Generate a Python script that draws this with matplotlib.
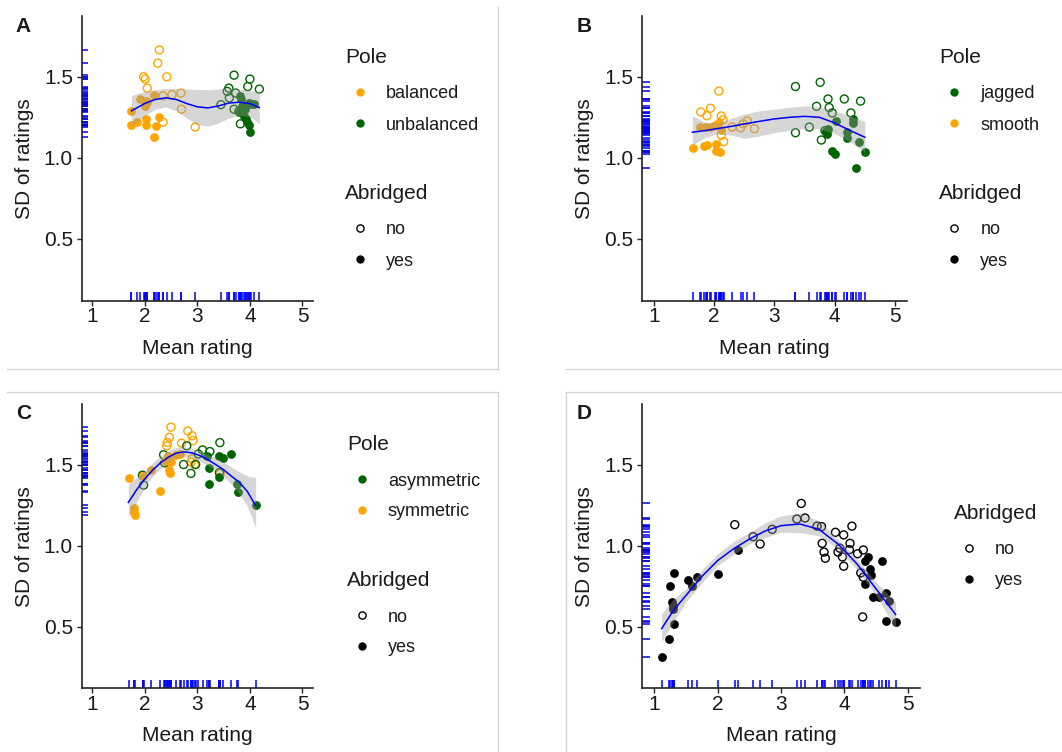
import numpy as np
import matplotlib.pyplot as plt
from matplotlib.lines import Line2D

plt.rcParams['font.family'] = ['Liberation Sans', 'DejaVu Sans']

W, H = 1062, 752
ORANGE = '#FFA500'
GREEN = '#006400'
BAND = '#999999'
TXT = '#1a1a1a'

# ---------------- panel A : balanced / unbalanced
a_bal_no_x = [2.28, 2.25, 1.98, 2.01, 2.42, 2.05, 2.35, 2.52, 2.69, 2.70, 2.96, 2.35]
a_bal_no_y = [1.666, 1.584, 1.50, 1.486, 1.50, 1.43, 1.383, 1.39, 1.40, 1.30, 1.19, 1.22]
a_bal_yes_x = [1.75, 1.92, 2.00, 2.03, 2.18, 2.05, 1.75, 1.85, 2.03, 2.03, 2.27, 2.22, 2.17]
a_bal_yes_y = [1.29, 1.365, 1.32, 1.35, 1.385, 1.345, 1.20, 1.22, 1.24, 1.20, 1.25, 1.195, 1.127]
a_unb_no_x = [3.70, 4.00, 3.96, 4.18, 3.60, 3.57, 3.73, 3.61, 3.45, 3.70, 3.79, 3.82]
a_unb_no_y = [1.51, 1.486, 1.44, 1.424, 1.43, 1.41, 1.40, 1.37, 1.328, 1.30, 1.288, 1.21]
a_unb_yes_x = [3.82, 3.84, 3.85, 3.98, 4.03, 4.08, 3.90, 3.88, 3.95, 3.99, 4.01, 3.93, 3.80]
a_unb_yes_y = [1.38, 1.36, 1.32, 1.34, 1.33, 1.335, 1.30, 1.26, 1.22, 1.20, 1.16, 1.24, 1.285]
a_fit_x = [1.75, 2.0, 2.2, 2.4, 2.6, 2.8, 3.0, 3.2, 3.4, 3.6, 3.8, 4.0, 4.18]
a_fit_y = [1.29, 1.335, 1.36, 1.37, 1.36, 1.335, 1.315, 1.308, 1.32, 1.338, 1.343, 1.335, 1.31]
a_hi = [1.385, 1.41, 1.42, 1.428, 1.428, 1.425, 1.422, 1.42, 1.425, 1.432, 1.425, 1.415, 1.41]
a_lo = [1.195, 1.26, 1.30, 1.315, 1.29, 1.245, 1.205, 1.195, 1.215, 1.245, 1.262, 1.255, 1.21]

# ---------------- panel B : jagged / smooth
b_smo_no_x = [2.08, 1.78, 1.94, 1.88, 2.12, 2.15, 2.30, 2.44, 2.48, 2.55, 2.67, 2.12, 2.16]
b_smo_no_y = [1.412, 1.283, 1.306, 1.26, 1.258, 1.235, 1.19, 1.185, 1.21, 1.228, 1.18, 1.14, 1.10]
b_smo_yes_x = [1.65, 1.76, 1.86, 1.84, 1.89, 2.01, 2.09, 2.11, 2.04, 2.03, 2.10, 1.95]
b_smo_yes_y = [1.063, 1.19, 1.188, 1.076, 1.08, 1.20, 1.22, 1.17, 1.088, 1.042, 1.037, 1.19]
b_jag_no_x = [3.35, 3.76, 3.89, 4.16, 4.43, 3.70, 3.91, 3.96, 4.27, 3.35, 3.58, 3.84, 3.87, 3.78]
b_jag_no_y = [1.44, 1.466, 1.363, 1.363, 1.35, 1.318, 1.31, 1.277, 1.277, 1.155, 1.19, 1.168, 1.16, 1.11]
b_jag_yes_x = [4.03, 4.31, 4.31, 3.85, 3.88, 4.21, 4.21, 4.40, 3.96, 4.00, 4.50, 4.35, 3.89]
b_jag_yes_y = [1.225, 1.24, 1.218, 1.168, 1.148, 1.158, 1.12, 1.10, 1.04, 1.025, 1.035, 0.94, 1.18]
b_fit_x = [1.64, 1.85, 2.05, 2.3, 2.5, 2.75, 3.0, 3.25, 3.5, 3.75, 4.0, 4.25, 4.5]
b_fit_y = [1.158, 1.168, 1.18, 1.195, 1.209, 1.225, 1.24, 1.25, 1.256, 1.25, 1.215, 1.17, 1.127]
b_hi = [1.26, 1.22, 1.215, 1.245, 1.27, 1.29, 1.30, 1.312, 1.32, 1.315, 1.29, 1.26, 1.225]
b_lo = [1.08, 1.125, 1.148, 1.14, 1.12, 1.135, 1.155, 1.17, 1.18, 1.18, 1.15, 1.10, 1.035]

# ---------------- panel C : asymmetric / symmetric
c_sym_no_x = [2.50, 2.82, 2.90, 2.92, 2.47, 2.43, 2.42, 2.70, 2.90, 2.95, 1.96, 3.44, 2.88]
c_sym_no_y = [1.73, 1.707, 1.677, 1.648, 1.668, 1.636, 1.615, 1.632, 1.535, 1.50, 1.432, 1.445, 1.515]
c_sym_yes_x = [1.70, 1.79, 1.80, 1.81, 1.97, 2.12, 2.30, 2.38, 2.47, 2.48, 2.50, 2.60, 2.67, 2.45]
c_sym_yes_y = [1.414, 1.23, 1.21, 1.19, 1.43, 1.465, 1.334, 1.52, 1.467, 1.447, 1.518, 1.56, 1.567, 1.55]
c_asy_no_x = [2.80, 3.10, 3.24, 3.43, 2.36, 2.38, 2.74, 2.97, 2.88, 1.98, 1.96, 3.02, 3.42]
c_asy_no_y = [1.615, 1.59, 1.58, 1.635, 1.56, 1.51, 1.50, 1.50, 1.445, 1.373, 1.434, 1.565, 1.45]
c_asy_yes_x = [3.18, 3.22, 3.22, 3.41, 3.48, 3.65, 3.41, 3.75, 3.77, 4.11]
c_asy_yes_y = [1.553, 1.477, 1.38, 1.553, 1.54, 1.567, 1.424, 1.38, 1.332, 1.25]
c_fit_x = [1.69, 1.85, 2.0, 2.15, 2.3, 2.45, 2.6, 2.75, 2.9, 3.05, 3.2, 3.35, 3.5, 3.65, 3.8, 3.95, 4.11]
c_fit_y = [1.266, 1.345, 1.41, 1.465, 1.51, 1.545, 1.57, 1.578, 1.572, 1.555, 1.53, 1.50, 1.468, 1.428, 1.39, 1.335, 1.246]
c_hi = [1.38, 1.42, 1.46, 1.51, 1.553, 1.585, 1.605, 1.61, 1.60, 1.58, 1.56, 1.54, 1.515, 1.485, 1.455, 1.43, 1.42]
c_lo = [1.174, 1.27, 1.36, 1.425, 1.475, 1.515, 1.54, 1.55, 1.54, 1.52, 1.495, 1.465, 1.425, 1.38, 1.32, 1.245, 1.11]

# ---------------- panel D : abridged only
d_no_x = [2.27, 2.56, 2.67, 2.86, 3.25, 3.32, 3.38, 3.57, 3.64, 3.65, 3.68, 3.70, 3.86,
          3.99, 4.12, 3.90, 3.93, 3.97, 3.99, 4.09, 4.08, 4.21, 4.30, 4.26, 4.30, 4.29]
d_no_y = [1.129, 1.055, 1.01, 1.10, 1.164, 1.26, 1.17, 1.12, 1.117, 1.014, 0.96, 0.922, 1.082,
          1.066, 1.12, 0.96, 0.984, 0.93, 0.873, 1.014, 0.975, 0.95, 0.973, 0.832, 0.805, 0.56]
d_yes_x = [1.115, 1.236, 1.247, 1.315, 1.28, 1.30, 1.29, 1.315, 1.525, 1.60, 1.68, 2.01, 2.32,
           4.38, 4.33, 4.40, 4.42, 4.32, 4.60, 4.45, 4.55, 4.66, 4.71, 4.66, 4.81]
d_yes_y = [0.31, 0.426, 0.75, 0.832, 0.652, 0.63, 0.61, 0.518, 0.79, 0.75, 0.805, 0.826, 0.975,
           0.928, 0.904, 0.857, 0.816, 0.764, 0.908, 0.68, 0.68, 0.707, 0.656, 0.535, 0.529]
d_fit_x = [1.115, 1.3, 1.5, 1.75, 2.0, 2.25, 2.5, 2.75, 3.0, 3.3, 3.6, 3.9, 4.2, 4.5, 4.81]
d_fit_y = [0.488, 0.60, 0.693, 0.81, 0.908, 0.98, 1.04, 1.09, 1.123, 1.133, 1.10, 1.01, 0.887, 0.734, 0.575]
d_hi = [0.58, 0.67, 0.734, 0.85, 0.95, 1.025, 1.082, 1.14, 1.184, 1.20, 1.154, 1.04, 0.918, 0.775, 0.652]
d_lo = [0.406, 0.53, 0.652, 0.77, 0.877, 0.945, 1.01, 1.05, 1.082, 1.08, 1.06, 0.98, 0.852, 0.693, 0.488]


fig = plt.figure(figsize=(W / 100, H / 100), dpi=100)


def fx(x):
    return x / W


def fy(y):
    return 1 - y / H


def px_axes(l, t, r, b):
    return fig.add_axes([fx(l), fy(b), (r - l) / W, (b - t) / H])


def ftext(x, y, s, **kw):
    kw.setdefault('color', TXT)
    fig.text(fx(x), fy(y), s, **kw)


def key(x, y, color, filled):
    fig.add_artist(Line2D([fx(x)], [fy(y)], transform=fig.transFigure, marker='o',
                          markersize=6.0 if filled else 5.2,
                          markerfacecolor=color if filled else 'none',
                          markeredgecolor=color, markeredgewidth=0 if filled else 1.0,
                          linestyle='none'))


def draw_panel(ax, groups, fit_x, fit_y, lo, hi):
    all_x, all_y = [], []
    for gx, gy, color, filled in groups:
        if filled:
            ax.scatter(gx, gy, s=40, c=color, linewidths=0, zorder=2)
        else:
            ax.scatter(gx, gy, s=33, facecolors='none', edgecolors=color, linewidths=1.0, zorder=2)
        all_x += list(gx)
        all_y += list(gy)
    ax.fill_between(fit_x, lo, hi, color=BAND, alpha=0.4, lw=0, zorder=3)
    ax.plot(fit_x, fit_y, color='blue', lw=1.1, zorder=4)
    ax.vlines(all_x, 0, 0.03, transform=ax.get_xaxis_transform(), color='blue', lw=1.1, zorder=1)
    ax.hlines(all_y, 0, 0.03, transform=ax.get_yaxis_transform(), color='blue', lw=1.1, zorder=1)

    ax.set_xlim(0.8, 5.2)
    ax.set_ylim(0.12, 1.875)
    ax.set_xticks([1, 2, 3, 4, 5])
    ax.set_yticks([0.5, 1.0, 1.5])
    ax.set_yticklabels(['0.5', '1.0', '1.5'])
    for s in ['top', 'right']:
        ax.spines[s].set_visible(False)
    for s in ['left', 'bottom']:
        ax.spines[s].set_linewidth(1.2)
        ax.spines[s].set_color('#222222')
    ax.tick_params(axis='both', length=3.6, width=1.0, color='#222222', labelsize=15,
                   labelcolor=TXT)
    ax.tick_params(axis='x', pad=1.4)
    ax.tick_params(axis='y', pad=2.6)


ax_a = px_axes(81.5, 16, 313, 300.5)
draw_panel(ax_a, [(a_bal_no_x, a_bal_no_y, ORANGE, False), (a_unb_no_x, a_unb_no_y, GREEN, False),
                  (a_bal_yes_x, a_bal_yes_y, ORANGE, True), (a_unb_yes_x, a_unb_yes_y, GREEN, True)],
           a_fit_x, a_fit_y, a_lo, a_hi)

ax_b = px_axes(641.7, 16, 907, 300.5)
draw_panel(ax_b, [(b_smo_no_x, b_smo_no_y, ORANGE, False), (b_jag_no_x, b_jag_no_y, GREEN, False),
                  (b_smo_yes_x, b_smo_yes_y, ORANGE, True), (b_jag_yes_x, b_jag_yes_y, GREEN, True)],
           b_fit_x, b_fit_y, b_lo, b_hi)

ax_c = px_axes(81.5, 403.7, 313, 688.3)
draw_panel(ax_c, [(c_sym_no_x, c_sym_no_y, ORANGE, False), (c_asy_no_x, c_asy_no_y, GREEN, False),
                  (c_sym_yes_x, c_sym_yes_y, ORANGE, True), (c_asy_yes_x, c_asy_yes_y, GREEN, True)],
           c_fit_x, c_fit_y, c_lo, c_hi)

ax_d = px_axes(641.7, 403.7, 920.3, 688.3)
draw_panel(ax_d, [(d_no_x, d_no_y, 'black', False), (d_yes_x, d_yes_y, 'black', True)],
           d_fit_x, d_fit_y, d_lo, d_hi)

# axis titles and panel letters
for cx, cy, lx, base, letter_x, letter_base, letter in [
        (197, 159, 25, 354, 15.7, 32.3, 'A'),
        (774.3, 159, 585, 354, 577, 32.3, 'B'),
        (197, 546.5, 25, 741, 15.7, 419.3, 'C'),
        (781, 546.5, 585, 741, 577, 419.3, 'D')]:
    ftext(cx, base, 'Mean rating', fontsize=15, ha='center', va='baseline')
    ftext(lx, cy, 'SD of ratings', fontsize=15, rotation=90, ha='center', va='center')
    ftext(letter_x, letter_base, letter, fontsize=15, fontweight='bold', ha='left', va='baseline')


def legend_block(x, title_base, title, items):
    ftext(x, title_base, title, fontsize=15, ha='left', va='baseline')
    for i, (label, color, filled) in enumerate(items):
        ky = title_base + 29 + 31 * i
        key(x + 15, ky, color, filled)
        ftext(x + 41, ky + 6.5, label, fontsize=13, ha='left', va='baseline')


abridged_items = [('no', 'black', False), ('yes', 'black', True)]
legend_block(345, 63, 'Pole', [('balanced', ORANGE, True), ('unbalanced', GREEN, True)])
legend_block(345, 199, 'Abridged', abridged_items)
legend_block(939.3, 63, 'Pole', [('jagged', GREEN, True), ('smooth', ORANGE, True)])
legend_block(939.3, 199, 'Abridged', abridged_items)
legend_block(347, 450, 'Pole', [('asymmetric', GREEN, True), ('symmetric', ORANGE, True)])
legend_block(347, 586, 'Abridged', abridged_items)
legend_block(953.7, 518.7, 'Abridged', abridged_items)

# thin frame lines between the four pictures
SEP = '#d4d4d4'
for xs, ys in [([498, 498], [7, 369]), ([7, 498], [369, 369]),
               ([566, 1062], [369, 369]),
               ([7, 498], [391.7, 391.7]), ([498, 498], [391.7, 752]),
               ([566, 1062], [391.7, 391.7]), ([566, 566], [391.7, 752])]:
    fig.add_artist(Line2D([fx(v) for v in xs], [fy(v) for v in ys],
                          transform=fig.transFigure, color=SEP, lw=0.9))

fig.savefig('out.png', dpi=100)
